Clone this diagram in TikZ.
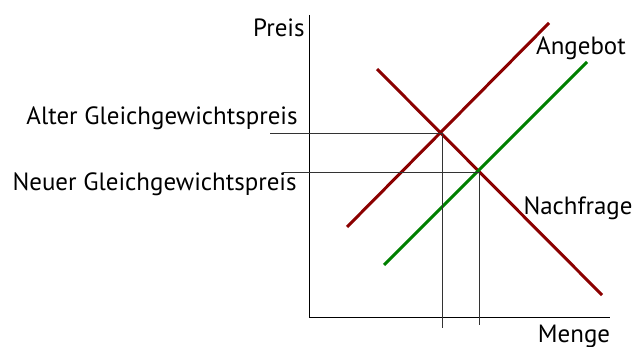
\documentclass[tikz,border=0pt]{standalone}
\usepackage{fontspec}
\setmainfont{PT Sans}
\usetikzlibrary{positioning}

\definecolor{altrot}{RGB}{139,0,0}
\definecolor{neugruen}{RGB}{0,128,0}

\tikzset{
    kurve/.style={line width=1.7pt},
    hilfslinie/.style={line width=0.5pt, black!80},
    beschriftung/.style={inner sep=0pt, font=\fontsize{14.2}{16}\selectfont}
}

\begin{document}
\begin{tikzpicture}[x=0.02cm, y=-0.02cm]
\useasboundingbox (0,0) rectangle (644,347);

% Achsen
\coordinate (ursprung) at (309,317);
\coordinate (yende) at (309,15);
\coordinate (xende) at (610,317);
\draw[line width=0.5pt] (yende) -- (ursprung) -- (xende);

\node[beschriftung, anchor=east] (preis) at (305,28) {Preis};
\node[beschriftung] (menge) at (574,336) {Menge};

% Kurven
\coordinate (a1) at (347,227);
\coordinate (a2) at (549,23);
\coordinate (n1) at (384,265);
\coordinate (n2) at (587,62);
\coordinate (d1) at (377,69);
\coordinate (d2) at (602,295);

\draw[kurve, altrot] (a1) -- (a2);
\draw[kurve, altrot] (d1) -- (d2);
\draw[kurve, neugruen] (n1) -- (n2);

\node[beschriftung] (angebot) at (581,48) {Angebot};
\node[beschriftung] (nachfrage) at (578,208) {Nachfrage};

% Gleichgewichte
\coordinate (altgg) at (442,133);
\coordinate (neugg) at (479,172);
\coordinate (altlinks) at (270,133);
\coordinate (neulinks) at (283,172);
\coordinate (altunten) at (442,328);
\coordinate (neuunten) at (479,325);

\draw[hilfslinie] (altlinks) -- (altgg) -- (altunten);
\draw[hilfslinie] (neulinks) -- (neugg) -- (neuunten);

\node[beschriftung, anchor=east] (altpreis) at (298,118) {Alter Gleichgewichtspreis};
\node[beschriftung, anchor=east] (neupreis) at (297,184) {Neuer Gleichgewichtspreis};

\end{tikzpicture}
\end{document}
